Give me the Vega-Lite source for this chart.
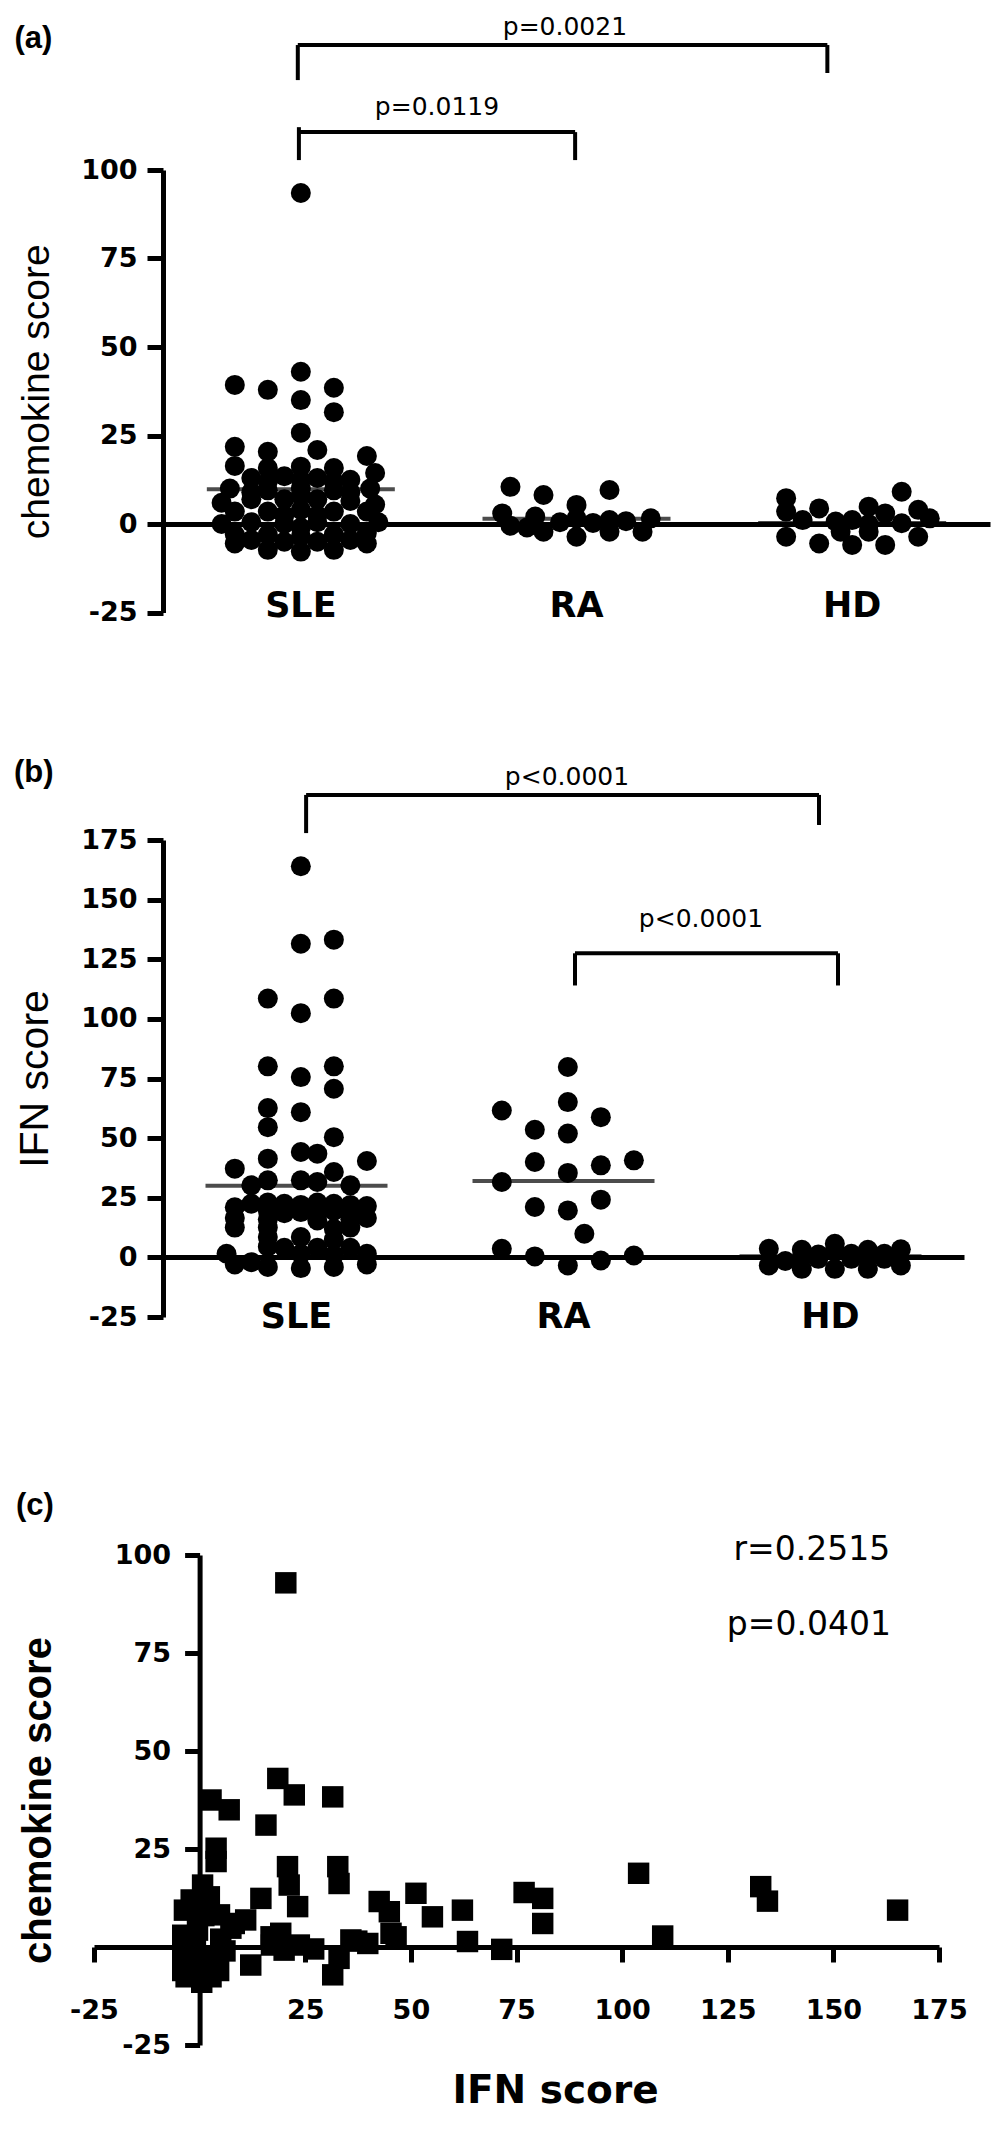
{
  "$schema": "https://vega.github.io/schema/vega-lite/v6.json",
  "background": "white",
  "padding": {"left": 13, "top": 15, "right": 5, "bottom": 5},
  "datasets": {
    "chemA": [
      {"group":"SLE","col":0,"chemokine":93.5},{"group":"SLE","col":0,"chemokine":43},{"group":"SLE","col":-4,"chemokine":39.3},{"group":"SLE","col":-2,"chemokine":37.9},{"group":"SLE","col":2,"chemokine":38.5},{"group":"SLE","col":0,"chemokine":35},{"group":"SLE","col":2,"chemokine":31.6},{"group":"SLE","col":0,"chemokine":25.8},{"group":"SLE","col":-4,"chemokine":21.8},{"group":"SLE","col":-2,"chemokine":20.4},{"group":"SLE","col":1,"chemokine":20.9},{"group":"SLE","col":4,"chemokine":19.2},{"group":"SLE","col":-4,"chemokine":16.4},{"group":"SLE","col":-2,"chemokine":15.8},{"group":"SLE","col":0,"chemokine":16.2},{"group":"SLE","col":2,"chemokine":15.8},{"group":"SLE","col":4.5,"chemokine":14.4},{"group":"SLE","col":-2,"chemokine":-7.3},{"group":"SLE","col":0,"chemokine":-7.8},{"group":"SLE","col":2,"chemokine":-7.3},{"group":"SLE","col":-4,"chemokine":-5.5},{"group":"SLE","col":4,"chemokine":-5.5},
      {"group":"SLE","col":-3,"chemokine":13},{"group":"SLE","col":-1,"chemokine":13.5},{"group":"SLE","col":1,"chemokine":13},{"group":"SLE","col":3,"chemokine":12.5},{"group":"SLE","col":-2,"chemokine":12},{"group":"SLE","col":0,"chemokine":12.5},{"group":"SLE","col":2,"chemokine":12},
      {"group":"SLE","col":-4.3,"chemokine":10},{"group":"SLE","col":-2,"chemokine":9.5},{"group":"SLE","col":0,"chemokine":10},{"group":"SLE","col":2,"chemokine":9.5},{"group":"SLE","col":4.2,"chemokine":10},{"group":"SLE","col":-3,"chemokine":9},{"group":"SLE","col":3,"chemokine":9},
      {"group":"SLE","col":-4.8,"chemokine":6},{"group":"SLE","col":-3,"chemokine":7},{"group":"SLE","col":-1,"chemokine":7},{"group":"SLE","col":1,"chemokine":7},{"group":"SLE","col":3,"chemokine":6.5},{"group":"SLE","col":4.5,"chemokine":5.5},{"group":"SLE","col":0,"chemokine":8},
      {"group":"SLE","col":-4,"chemokine":3.5},{"group":"SLE","col":-2,"chemokine":3.5},{"group":"SLE","col":0,"chemokine":4},{"group":"SLE","col":2,"chemokine":3.5},{"group":"SLE","col":4,"chemokine":3.5},{"group":"SLE","col":-1,"chemokine":2.5},{"group":"SLE","col":1,"chemokine":2.5},
      {"group":"SLE","col":-4.8,"chemokine":0},{"group":"SLE","col":-3,"chemokine":0.5},{"group":"SLE","col":-1,"chemokine":0},{"group":"SLE","col":1,"chemokine":0.5},{"group":"SLE","col":3,"chemokine":0},{"group":"SLE","col":4.7,"chemokine":0.5},{"group":"SLE","col":0,"chemokine":-1},
      {"group":"SLE","col":-4,"chemokine":-3},{"group":"SLE","col":-2,"chemokine":-3},{"group":"SLE","col":0,"chemokine":-3.5},{"group":"SLE","col":2,"chemokine":-3},{"group":"SLE","col":4,"chemokine":-2.5},{"group":"SLE","col":-3,"chemokine":-4.5},{"group":"SLE","col":3,"chemokine":-4.5},{"group":"SLE","col":-1,"chemokine":-5},{"group":"SLE","col":1,"chemokine":-5},
      {"group":"RA","col":-4,"chemokine":10.5},{"group":"RA","col":-2,"chemokine":8.2},{"group":"RA","col":0,"chemokine":5.4},{"group":"RA","col":2,"chemokine":9.6},{"group":"RA","col":-4.5,"chemokine":3.0},{"group":"RA","col":-4,"chemokine":-0.5},{"group":"RA","col":-2.5,"chemokine":2.1},{"group":"RA","col":-2,"chemokine":-2.2},{"group":"RA","col":0,"chemokine":1.6},{"group":"RA","col":0,"chemokine":-3.6},{"group":"RA","col":2,"chemokine":1.1},{"group":"RA","col":2,"chemokine":-2.2},{"group":"RA","col":4,"chemokine":-2.2},{"group":"RA","col":4.5,"chemokine":1.6},{"group":"RA","col":-1,"chemokine":0.5},{"group":"RA","col":1,"chemokine":0.3},{"group":"RA","col":3,"chemokine":0.8},{"group":"RA","col":-3,"chemokine":-1.0},
      {"group":"HD","col":-4,"chemokine":7.3},{"group":"HD","col":-4,"chemokine":3.5},{"group":"HD","col":-4,"chemokine":-3.6},{"group":"HD","col":-2,"chemokine":4.4},{"group":"HD","col":-2,"chemokine":-5.5},{"group":"HD","col":0,"chemokine":-5.9},{"group":"HD","col":1,"chemokine":4.9},{"group":"HD","col":0,"chemokine":1.1},{"group":"HD","col":2,"chemokine":-5.9},{"group":"HD","col":3,"chemokine":9.1},{"group":"HD","col":4,"chemokine":4.0},{"group":"HD","col":4,"chemokine":-3.6},{"group":"HD","col":4.7,"chemokine":1.6},{"group":"HD","col":2,"chemokine":3.0},{"group":"HD","col":-1,"chemokine":0.7},{"group":"HD","col":-3,"chemokine":1.1},{"group":"HD","col":1,"chemokine":0},{"group":"HD","col":3,"chemokine":0.2},{"group":"HD","col":-0.7,"chemokine":-2.2},{"group":"HD","col":1,"chemokine":-2.2}
    ],
    "meansA": [{"group":"SLE","mean":9.8},{"group":"RA","mean":1.5},{"group":"HD","mean":0.3}],
    "ifnB": [
      {"group":"SLE","col":0,"ifn":164},{"group":"SLE","col":0,"ifn":131.5},{"group":"SLE","col":2,"ifn":133.2},{"group":"SLE","col":-2,"ifn":108.5},{"group":"SLE","col":2,"ifn":108.5},{"group":"SLE","col":0,"ifn":102.4},{"group":"SLE","col":-2,"ifn":80.1},{"group":"SLE","col":2,"ifn":80.1},{"group":"SLE","col":0,"ifn":75.6},{"group":"SLE","col":2,"ifn":70.7},{"group":"SLE","col":-2,"ifn":62.6},{"group":"SLE","col":0,"ifn":60.9},{"group":"SLE","col":-2,"ifn":54.6},{"group":"SLE","col":2,"ifn":50.4},{"group":"SLE","col":-2,"ifn":41.4},{"group":"SLE","col":0,"ifn":44.2},{"group":"SLE","col":1,"ifn":43.5},{"group":"SLE","col":4,"ifn":40.4},{"group":"SLE","col":-4,"ifn":37.2},{"group":"SLE","col":-2,"ifn":32.3},{"group":"SLE","col":-3,"ifn":30.2},{"group":"SLE","col":0,"ifn":32.3},{"group":"SLE","col":1,"ifn":31.6},{"group":"SLE","col":2,"ifn":35.8},{"group":"SLE","col":3,"ifn":30.2},
      {"group":"SLE","col":-3,"ifn":22.5},{"group":"SLE","col":-2,"ifn":23},{"group":"SLE","col":-1,"ifn":22.5},{"group":"SLE","col":0,"ifn":22},{"group":"SLE","col":1,"ifn":23},{"group":"SLE","col":2,"ifn":22.5},{"group":"SLE","col":3,"ifn":22},{"group":"SLE","col":4,"ifn":21.5},{"group":"SLE","col":-4,"ifn":21},
      {"group":"SLE","col":-2,"ifn":19.5},{"group":"SLE","col":0,"ifn":19},{"group":"SLE","col":2,"ifn":19.5},{"group":"SLE","col":3,"ifn":18.5},{"group":"SLE","col":-1,"ifn":18.5},{"group":"SLE","col":1,"ifn":18.5},
      {"group":"SLE","col":-4,"ifn":16.5},{"group":"SLE","col":-2,"ifn":16},{"group":"SLE","col":3,"ifn":16},{"group":"SLE","col":4,"ifn":16.5},{"group":"SLE","col":1,"ifn":15.5},
      {"group":"SLE","col":-4,"ifn":12.5},{"group":"SLE","col":-2,"ifn":12.5},{"group":"SLE","col":2,"ifn":12},{"group":"SLE","col":3,"ifn":12.5},
      {"group":"SLE","col":-2,"ifn":8.5},{"group":"SLE","col":0,"ifn":8.5},{"group":"SLE","col":2,"ifn":7.5},
      {"group":"SLE","col":-2,"ifn":4.5},{"group":"SLE","col":-1,"ifn":4},{"group":"SLE","col":1,"ifn":4},{"group":"SLE","col":3,"ifn":4},
      {"group":"SLE","col":-4.5,"ifn":1.5},{"group":"SLE","col":0,"ifn":1.5},{"group":"SLE","col":4,"ifn":1.5},{"group":"SLE","col":2,"ifn":1},
      {"group":"SLE","col":-4,"ifn":-3},{"group":"SLE","col":-2,"ifn":-4},{"group":"SLE","col":0,"ifn":-4.5},{"group":"SLE","col":2,"ifn":-4},{"group":"SLE","col":4,"ifn":-3},{"group":"SLE","col":-3,"ifn":-2},
      {"group":"RA","col":0,"ifn":79.8},{"group":"RA","col":0,"ifn":65.1},{"group":"RA","col":-4,"ifn":61.6},{"group":"RA","col":2,"ifn":58.8},{"group":"RA","col":-2,"ifn":53.5},{"group":"RA","col":0,"ifn":51.9},{"group":"RA","col":-2,"ifn":40},{"group":"RA","col":4,"ifn":40.7},{"group":"RA","col":2,"ifn":38.6},{"group":"RA","col":0,"ifn":35.4},{"group":"RA","col":-4,"ifn":31.6},{"group":"RA","col":-2,"ifn":21.1},{"group":"RA","col":0,"ifn":19.7},{"group":"RA","col":2,"ifn":24.2},{"group":"RA","col":1,"ifn":9.9},{"group":"RA","col":-4,"ifn":3.6},{"group":"RA","col":-2,"ifn":0.4},{"group":"RA","col":0,"ifn":-3.4},{"group":"RA","col":2,"ifn":-1.3},{"group":"RA","col":4,"ifn":0.8},
      {"group":"HD","col":-4,"ifn":3.6},{"group":"HD","col":-4,"ifn":-3.4},{"group":"HD","col":-2,"ifn":3.2},{"group":"HD","col":-2,"ifn":-4.8},{"group":"HD","col":0,"ifn":5.7},{"group":"HD","col":0,"ifn":2.5},{"group":"HD","col":0,"ifn":-4.8},{"group":"HD","col":2,"ifn":3.2},{"group":"HD","col":2,"ifn":-4.8},{"group":"HD","col":4,"ifn":3.4},{"group":"HD","col":4,"ifn":-3.4},{"group":"HD","col":-1,"ifn":-0.6},{"group":"HD","col":1,"ifn":-0.6},{"group":"HD","col":3,"ifn":-0.6},{"group":"HD","col":-3,"ifn":-1.5},{"group":"HD","col":1,"ifn":1.5},{"group":"HD","col":-1,"ifn":1.2},{"group":"HD","col":3,"ifn":1.5},{"group":"HD","col":2,"ifn":0.2},{"group":"HD","col":-2,"ifn":0}
    ],
    "meansB": [{"group":"SLE","mean":30},{"group":"RA","mean":32},{"group":"HD","mean":0.5}],
    "corrC": [
      {"ifn":2.7,"chemokine":37.5},{"ifn":7,"chemokine":35},{"ifn":15.7,"chemokine":31.1},{"ifn":18.5,"chemokine":43},{"ifn":22.4,"chemokine":38.8},{"ifn":31.5,"chemokine":38.3},{"ifn":3.9,"chemokine":25.2},{"ifn":3.9,"chemokine":21.8},{"ifn":20.8,"chemokine":20.5},{"ifn":21.2,"chemokine":15.8},{"ifn":32.7,"chemokine":20.5},{"ifn":33,"chemokine":16.2},{"ifn":0.7,"chemokine":15.8},{"ifn":2.3,"chemokine":12.8},{"ifn":14.5,"chemokine":12.4},{"ifn":23.2,"chemokine":10.3},{"ifn":-3.6,"chemokine":9.4},{"ifn":42.5,"chemokine":11.6},{"ifn":44.9,"chemokine":9.0},{"ifn":51.2,"chemokine":13.7},{"ifn":55.1,"chemokine":7.7},{"ifn":62.2,"chemokine":9.4},{"ifn":63.4,"chemokine":1.4},{"ifn":71.5,"chemokine":-0.6},{"ifn":16.9,"chemokine":2.6},{"ifn":19.2,"chemokine":3.5},{"ifn":23.6,"chemokine":0.5},{"ifn":12.1,"chemokine":-4.6},{"ifn":31.5,"chemokine":-7.1},{"ifn":33,"chemokine":-2.9},{"ifn":35.8,"chemokine":1.8},{"ifn":39.8,"chemokine":0.9},{"ifn":45.3,"chemokine":3.5},{"ifn":8.2,"chemokine":6.0},{"ifn":4.7,"chemokine":8.2},{"ifn":-0.5,"chemokine":4.3},{"ifn":2.7,"chemokine":-7.6},{"ifn":-3.2,"chemokine":-7.6},{"ifn":76.8,"chemokine":13.9},{"ifn":81.2,"chemokine":12.4},{"ifn":81.2,"chemokine":6.0},{"ifn":103.9,"chemokine":18.8},{"ifn":109.6,"chemokine":2.8},{"ifn":132.8,"chemokine":15.4},{"ifn":134.4,"chemokine":11.7},{"ifn":165.2,"chemokine":9.4},{"ifn":20.4,"chemokine":92.9},{"ifn":7.4,"chemokine":4.8},{"ifn":10.9,"chemokine":6.9},{"ifn":-4,"chemokine":3},{"ifn":-4,"chemokine":-2},{"ifn":-4,"chemokine":-6},{"ifn":-1,"chemokine":0},{"ifn":0,"chemokine":-4},{"ifn":0.5,"chemokine":-9},{"ifn":4,"chemokine":-3},{"ifn":5,"chemokine":2},{"ifn":6,"chemokine":-1},{"ifn":4.5,"chemokine":-6},{"ifn":20,"chemokine":-0.8},{"ifn":37.2,"chemokine":1.5},{"ifn":46.5,"chemokine":2.6},{"ifn":-2,"chemokine":12},{"ifn":1,"chemokine":8},{"ifn":17,"chemokine":0.5},{"ifn":27,"chemokine":-0.5}
    ]
  },
  "vconcat": [
    {
      "vconcat": [
        {
          "width": 827,
          "height": 442.5,
          "layer": [
            {
              "data": {"name": "chemA"},
              "mark": {"type": "circle", "size": 400, "opacity": 1, "color": "black"},
              "encoding": {
                "x": {"field": "group", "type": "nominal", "title": null,
                  "scale": {"domain": ["SLE", "RA", "HD"], "paddingInner": 0, "paddingOuter": 0},
                  "axis": {"title": null, "labelAngle": 0, "ticks": false, "tickSize": 0, "offset": -88.5, "labelPadding": 64, "labelFontSize": 35}},
                "xOffset": {"field": "col", "type": "quantitative", "scale": {"domain": [-8.35, 8.35]}},
                "y": {"field": "chemokine", "type": "quantitative", "title": "chemokine score",
                  "scale": {"domain": [-25, 100], "nice": false, "zero": false},
                  "axis": {"values": [-25, 0, 25, 50, 75, 100], "labelExpr": "datum.value + ''", "tickSize": 16, "labelPadding": 10, "labelFontSize": 27, "titleFont": "Liberation Sans", "titleFontSize": 39, "titleFontWeight": "normal", "titlePadding": 24}}
              }
            },
            {
              "data": {"name": "meansA"},
              "mark": {"type": "tick", "size": 188, "thickness": 4, "color": "black"},
              "encoding": {
                "x": {"field": "group", "type": "nominal", "title": null},
                "y": {"field": "mean", "type": "quantitative", "title": "chemokine score"}
              }
            },
            {"data": {"values": [{}]}, "mark": {"type": "rule", "strokeWidth": 4, "color": "black", "clip": false},
             "encoding": {"x": {"datum": "SLE", "bandPosition": 0.489}, "x2": {"datum": "HD", "bandPosition": 0.41}, "y": {"datum": 135.3}}},
            {"data": {"values": [{}]}, "mark": {"type": "rule", "strokeWidth": 4, "color": "black", "clip": false},
             "encoding": {"x": {"datum": "SLE", "bandPosition": 0.489}, "y": {"datum": 135.3}, "y2": {"datum": 125.4}}},
            {"data": {"values": [{}]}, "mark": {"type": "rule", "strokeWidth": 4, "color": "black", "clip": false},
             "encoding": {"x": {"datum": "HD", "bandPosition": 0.41}, "y": {"datum": 135.3}, "y2": {"datum": 127.4}}},
            {"data": {"values": [{}]}, "mark": {"type": "rule", "strokeWidth": 4, "color": "black", "clip": false},
             "encoding": {"x": {"datum": "SLE", "bandPosition": 0.493}, "x2": {"datum": "RA", "bandPosition": 0.495}, "y": {"datum": 110.7}}},
            {"data": {"values": [{}]}, "mark": {"type": "rule", "strokeWidth": 4, "color": "black", "clip": false},
             "encoding": {"x": {"datum": "SLE", "bandPosition": 0.493}, "y": {"datum": 112.1}, "y2": {"datum": 102.8}}},
            {"data": {"values": [{}]}, "mark": {"type": "rule", "strokeWidth": 4, "color": "black", "clip": false},
             "encoding": {"x": {"datum": "RA", "bandPosition": 0.495}, "y": {"datum": 110.7}, "y2": {"datum": 102.8}}},
            {"data": {"values": [{"label": "p=0.0021"}]}, "mark": {"type": "text", "font": "DejaVu Sans", "fontSize": 25, "align": "center", "baseline": "alphabetic", "color": "black", "clip": false},
             "encoding": {"text": {"field": "label"}, "x": {"datum": "RA", "bandPosition": 0.458}, "y": {"datum": 138.1}}},
            {"data": {"values": [{"label": "p=0.0119"}]}, "mark": {"type": "text", "font": "DejaVu Sans", "fontSize": 25, "align": "center", "baseline": "alphabetic", "color": "black", "clip": false},
             "encoding": {"text": {"field": "label"}, "x": {"datum": "SLE", "bandPosition": 0.994}, "y": {"datum": 115.5}}},
            {"data": {"values": [{"label": "(a)"}]}, "mark": {"type": "text", "font": "Liberation Sans", "fontWeight": "bold", "fontSize": 31, "align": "center", "baseline": "middle", "color": "black", "clip": false},
             "encoding": {"text": {"field": "label"}, "x": {"datum": "SLE", "bandPosition": -0.47}, "y": {"datum": 137.0}}}
          ]
        },
        {
          "width": 801,
          "height": 477,
          "layer": [
            {
              "data": {"name": "ifnB"},
              "mark": {"type": "circle", "size": 400, "opacity": 1, "color": "black"},
              "encoding": {
                "x": {"field": "group", "type": "nominal", "title": null,
                  "scale": {"domain": ["SLE", "RA", "HD"], "paddingInner": 0, "paddingOuter": 0},
                  "axis": {"title": null, "labelAngle": 0, "ticks": false, "tickSize": 0, "offset": -60, "labelPadding": 42, "labelFontSize": 35}},
                "xOffset": {"field": "col", "type": "quantitative", "scale": {"domain": [-8.14, 8.14]}},
                "y": {"field": "ifn", "type": "quantitative", "title": "IFN score",
                  "scale": {"domain": [-25, 175], "nice": false, "zero": false},
                  "axis": {"values": [-25, 0, 25, 50, 75, 100, 125, 150, 175], "labelExpr": "datum.value + ''", "tickSize": 16, "labelPadding": 10, "labelFontSize": 27, "titleFont": "Liberation Sans", "titleFontSize": 41, "titleFontWeight": "normal", "titlePadding": 24}}
              }
            },
            {
              "data": {"name": "meansB"},
              "mark": {"type": "tick", "size": 182, "thickness": 4, "color": "black"},
              "encoding": {
                "x": {"field": "group", "type": "nominal", "title": null},
                "y": {"field": "mean", "type": "quantitative", "title": "IFN score"}
              }
            },
            {"data": {"values": [{}]}, "mark": {"type": "rule", "strokeWidth": 4, "color": "black", "clip": false},
             "encoding": {"x": {"datum": "SLE", "bandPosition": 0.536}, "x2": {"datum": "HD", "bandPosition": 0.457}, "y": {"datum": 193.9}}},
            {"data": {"values": [{}]}, "mark": {"type": "rule", "strokeWidth": 4, "color": "black", "clip": false},
             "encoding": {"x": {"datum": "SLE", "bandPosition": 0.536}, "y": {"datum": 193.9}, "y2": {"datum": 177.9}}},
            {"data": {"values": [{}]}, "mark": {"type": "rule", "strokeWidth": 4, "color": "black", "clip": false},
             "encoding": {"x": {"datum": "HD", "bandPosition": 0.457}, "y": {"datum": 193.9}, "y2": {"datum": 181.3}}},
            {"data": {"values": [{}]}, "mark": {"type": "rule", "strokeWidth": 4, "color": "black", "clip": false},
             "encoding": {"x": {"datum": "RA", "bandPosition": 0.543}, "x2": {"datum": "HD", "bandPosition": 0.528}, "y": {"datum": 127.5}}},
            {"data": {"values": [{}]}, "mark": {"type": "rule", "strokeWidth": 4, "color": "black", "clip": false},
             "encoding": {"x": {"datum": "RA", "bandPosition": 0.543}, "y": {"datum": 127.5}, "y2": {"datum": 114.0}}},
            {"data": {"values": [{}]}, "mark": {"type": "rule", "strokeWidth": 4, "color": "black", "clip": false},
             "encoding": {"x": {"datum": "HD", "bandPosition": 0.528}, "y": {"datum": 127.5}, "y2": {"datum": 114.0}}},
            {"data": {"values": [{"label": "p<0.0001"}]}, "mark": {"type": "text", "font": "DejaVu Sans", "fontSize": 25, "align": "center", "baseline": "alphabetic", "color": "black", "clip": false},
             "encoding": {"text": {"field": "label"}, "x": {"datum": "RA", "bandPosition": 0.513}, "y": {"datum": 198.1}}},
            {"data": {"values": [{"label": "p<0.0001"}]}, "mark": {"type": "text", "font": "DejaVu Sans", "fontSize": 25, "align": "center", "baseline": "alphabetic", "color": "black", "clip": false},
             "encoding": {"text": {"field": "label"}, "x": {"datum": "HD", "bandPosition": 0.015}, "y": {"datum": 138.4}}},
            {"data": {"values": [{"label": "(b)"}]}, "mark": {"type": "text", "font": "Liberation Sans", "fontWeight": "bold", "fontSize": 31, "align": "center", "baseline": "middle", "color": "black", "clip": false},
             "encoding": {"text": {"field": "label"}, "x": {"datum": "SLE", "bandPosition": -0.484}, "y": {"datum": 202.9}}}
          ]
        }
      ],
      "spacing": 131
    },
    {
      "width": 776,
      "height": 490,
      "layer": [
        {
          "data": {"name": "corrC"},
          "mark": {"type": "square", "size": 460, "opacity": 1, "color": "black"},
          "encoding": {
            "x": {"field": "ifn", "type": "quantitative", "title": "IFN score",
              "scale": {"domain": [-25, 175], "range": [-69, 776], "nice": false, "zero": false},
              "axis": {"values": [-25, 25, 50, 75, 100, 125, 150, 175], "labelExpr": "datum.value + ''", "offset": -98, "tickSize": 15, "labelPadding": 35, "labelFontSize": 27, "titleFont": "DejaVu Sans", "titleFontSize": 39, "titleFontWeight": "bold", "titlePadding": 48, "titleX": 392}},
            "y": {"field": "chemokine", "type": "quantitative", "title": "chemokine score",
              "scale": {"domain": [-25, 100], "nice": false, "zero": false},
              "axis": {"values": [-25, 25, 50, 75, 100], "labelExpr": "datum.value + ''", "offset": -36.6, "tickSize": 15, "labelPadding": 14, "labelFontSize": 27, "titleFont": "Liberation Sans", "titleFontSize": 40, "titleFontWeight": "bold", "titlePadding": 56}}
          }
        },
        {"data": {"values": [{"label": "r=0.2515"}]}, "mark": {"type": "text", "font": "DejaVu Sans", "fontSize": 33, "align": "center", "baseline": "alphabetic", "color": "black", "clip": false},
         "encoding": {"text": {"field": "label"}, "x": {"datum": 144.9}, "y": {"datum": 98.7}}},
        {"data": {"values": [{"label": "p=0.0401"}]}, "mark": {"type": "text", "font": "DejaVu Sans", "fontSize": 33, "align": "center", "baseline": "alphabetic", "color": "black", "clip": false},
         "encoding": {"text": {"field": "label"}, "x": {"datum": 144.2}, "y": {"datum": 79.6}}},
        {"data": {"values": [{"label": "(c)"}]}, "mark": {"type": "text", "font": "Liberation Sans", "fontWeight": "bold", "fontSize": 31, "align": "center", "baseline": "middle", "color": "black", "clip": false},
         "encoding": {"text": {"field": "label"}, "x": {"datum": -39.0}, "y": {"datum": 112.4}}}
      ]
    }
  ],
  "spacing": 156,
  "config": {
    "view": {"stroke": null},
    "font": "DejaVu Sans",
    "axis": {
      "grid": false,
      "domainColor": "black",
      "tickColor": "black",
      "labelColor": "black",
      "titleColor": "black",
      "domainWidth": 5,
      "tickWidth": 5,
      "labelFont": "DejaVu Sans",
      "labelFontWeight": "bold",
      "labelFontSize": 27,
      "labelFlush": false,
      "labelOverlap": false
    }
  }
}
